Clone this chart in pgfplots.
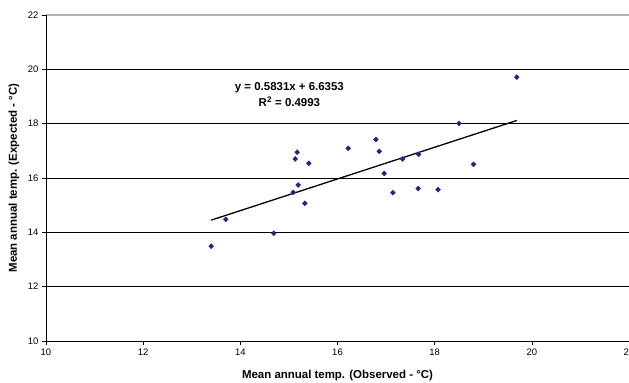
\documentclass[border=0pt]{standalone}
\usepackage{pgfplots}
\pgfplotsset{compat=1.18}
\usepackage{fontspec}
\setmainfont{Liberation Sans}
\definecolor{navy}{RGB}{36,36,128}
\pgfplotstableread{
x y
13.40 13.49
13.70 14.48
14.69 13.97
15.09 15.47
15.19 15.74
15.13 16.70
15.17 16.95
15.33 15.07
15.41 16.54
16.22 17.09
16.79 17.42
16.86 16.98
16.96 16.17
19.69 19.71
18.50 18.01
17.34 16.70
17.67 16.87
18.80 16.50
17.14 15.46
17.66 15.61
18.07 15.57
}\datatable
\begin{document}
\begin{tikzpicture}
\begin{axis}[
  name=ax,
  scale only axis,
  width=583bp, height=326bp,
  xmin=10, xmax=22, ymin=10, ymax=22,
  xtick={10,12,...,22}, ytick={10,12,...,22},
  tick pos=left, tick align=outside,
  major tick length=4bp,
  tick style={black, line width=0.6bp},
  axis line style={draw=none},
  ymajorgrids,
  grid style={black, line width=0.7bp},
  /pgf/number format/assume math mode=true,
  ticklabel style={font=\fontsize{9.5}{10}\selectfont},
  every axis x label/.style={at={(axis description cs:0.5,-0.107)}, anchor=center},
  every axis y label/.style={at={(axis description cs:-0.0549,0.5)}, anchor=center, rotate=90},
  label style={font=\bfseries\fontsize{11.5}{13}\selectfont},
  xlabel={Mean annual temp. (Observed - °C)},
  ylabel={Mean annual temp. (Expected - °C)},
  clip=false,
]
\draw[gray!60, line width=1.2bp] (rel axis cs:0,1) -- (rel axis cs:1,1);
\draw[gray!35, line width=0.8bp] (rel axis cs:1,0) -- (rel axis cs:1,1);
\draw[black, line width=0.8bp] (rel axis cs:0,0) -- (rel axis cs:0,1);
\draw[black, line width=0.8bp] (rel axis cs:0,0) -- (rel axis cs:1,0);
\addplot[only marks, mark=diamond*, mark size=2.5bp, color=navy, mark options={fill=navy, draw=navy, xscale=1.3}] table[x=x,y=y] {\datatable};
\addplot[black, line width=1.3bp] coordinates {(13.40,14.449) (19.69,18.117)};
\node[align=center, font=\bfseries\fontsize{11.5}{16}\selectfont] at (axis cs:15.01,19.07) {y = 0.5831x + 6.6353\\R\textsuperscript{2} = 0.4993};
\end{axis}
\pgfresetboundingbox
\useasboundingbox ([xshift=-46bp,yshift=-42bp]ax.south west) rectangle ([yshift=15bp]ax.north east);
\end{tikzpicture}
\end{document}
